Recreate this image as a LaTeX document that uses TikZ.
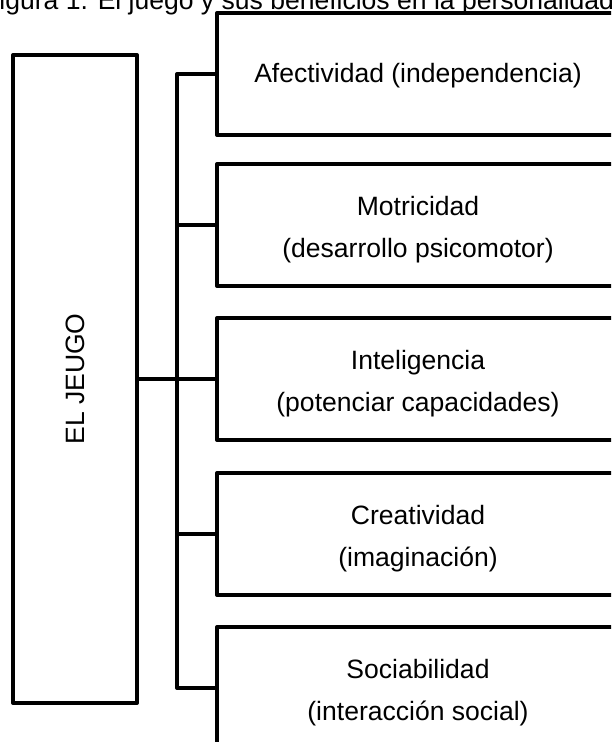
\documentclass[tikz,border=0pt]{standalone}
\usepackage{fontspec}
\setmainfont{Liberation Sans}
\begin{document}
\begin{tikzpicture}[x=0.75pt,y=-0.75pt,
  box/.style={draw, line width=3pt, line join=round, minimum width=301.5pt, minimum height=91.5pt, inner sep=0pt, outer sep=0pt, anchor=north west},
  mainbox/.style={draw, line width=3pt, line join=round, minimum width=93pt, minimum height=486pt, inner sep=0pt, outer sep=0pt, anchor=north west},
  conn/.style={line width=3pt, line join=round},
  txt/.style={font=\fontsize{19.9}{24}\selectfont, inner sep=0pt, anchor=base}]
\useasboundingbox (0,0) rectangle (611,742);
\fill[white] (0,0) rectangle (611,742);
\clip (0,0) rectangle (611,742);
\node[txt, anchor=base west] (title) at (-17,10) {Figura 1. El juego y sus beneficios en la personalidad};
\node[mainbox] (main) at (13,55) {};
\node[box] (b1) at (217,13) {};
\node[box] (b2) at (217,164) {};
\node[box] (b3) at (217,318) {};
\node[box] (b4) at (217,473) {};
\node[box] (b5) at (217,627) {};
\node[txt, anchor=center, rotate=90] (mt) at (main.center) {EL JEUGO};
\draw[conn] (b1.west) -- ++(-40,0) |- (b5.west);
\draw[conn] (b2.west) -- ++(-40,0);
\draw[conn] (b4.west) -- ++(-40,0);
\draw[conn] (main.east) -- (b3.west);
\node[txt] (t1) at ([yshift=-6.75pt]b1.center) {Afectividad (independencia)};
\node[txt] (t2a) at ([yshift=7.5pt]b2.center) {Motricidad};
\node[txt] (t2b) at ([yshift=-24pt]b2.center) {(desarrollo psicomotor)};
\node[txt] (t3a) at ([yshift=7.5pt]b3.center) {Inteligencia};
\node[txt] (t3b) at ([yshift=-24pt]b3.center) {(potenciar capacidades)};
\node[txt] (t4a) at ([yshift=7.5pt]b4.center) {Creatividad};
\node[txt] (t4b) at ([yshift=-24pt]b4.center) {(imaginación)};
\node[txt] (t5a) at ([yshift=7.5pt]b5.center) {Sociabilidad};
\node[txt] (t5b) at ([yshift=-24pt]b5.center) {(interacción social)};
\end{tikzpicture}
\end{document}
